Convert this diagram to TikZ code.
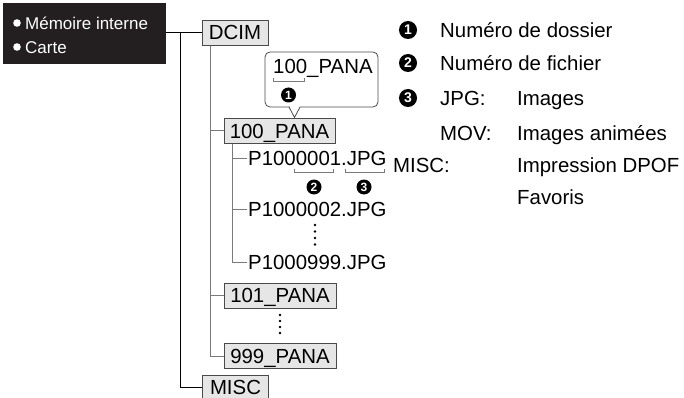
\documentclass[tikz,border=0pt]{standalone}
\usepackage{fontspec}
\setmainfont{Liberation Sans}
\definecolor{boxfill}{HTML}{E6E6E6}
\definecolor{boxborder}{HTML}{4A4A4A}
\definecolor{treegray}{HTML}{7A7A7A}
\definecolor{mediabg}{HTML}{231F20}
\tikzset{
  big/.style={font=\fontsize{20.4}{24}\selectfont},
  folder/.style={big, draw=boxborder, fill=boxfill, line width=0.8pt, inner sep=0pt,
     text height=14.6pt, text depth=0pt, minimum height=25pt},
  fname/.style={big, anchor=west, inner sep=0pt, text height=14.6pt, text depth=0pt},
  legend/.style={big, anchor=west, inner sep=0pt, text height=14.6pt, text depth=0pt},
  tree/.style={draw=treegray, line width=1pt},
  num/.style={circle, fill=black, text=white, inner sep=0pt, minimum size=15pt,
     font=\bfseries\fontsize{12}{12}\selectfont},
  bignum/.style={num, minimum size=18pt, font=\bfseries\fontsize{14}{14}\selectfont},
  brk/.style={draw=treegray, line width=0.8pt},
  medtext/.style={anchor=west, inner sep=0pt, text=white, font=\fontsize{17}{20}\selectfont,
     text height=12.2pt, text depth=0pt},
}
\begin{document}
\begin{tikzpicture}[x=1pt,y=-1pt]
\useasboundingbox (0,0) rectangle (684,398);
% media box
\node (media) [fill=mediabg, minimum width=163pt, minimum height=61pt, inner sep=0pt] at (84.5,33.5) {};
\fill[white] (17,23) circle (3.8);
\fill[white] (17,47) circle (3.8);
\node (mem) [medtext] at (25,23) {Mémoire interne};
\node (carte) [medtext] at (25,47) {Carte};
% folders
\node (dcim) [folder, minimum width=66pt] at (235,32.5) {DCIM};
\node (p100) [folder, minimum width=111pt] at (279.5,131) {100\_PANA};
\node (p101) [folder, minimum width=112pt] at (280,295.5) {101\_PANA};
\node (p999) [folder, minimum width=112pt] at (280,356) {999\_PANA};
\node (misc) [folder, minimum width=66pt] at (235.5,387.5) {MISC};
% files
\node (f1) [fname] at (248,158) {P1000001.JPG};
\node (f2) [fname] at (248,209) {P1000002.JPG};
\node (f3) [fname] at (248,262) {P1000999.JPG};
% connectors
\coordinate (bx) at (180,33);
\coordinate (gx) at (210,0);
\coordinate (sx) at (232,0);
\draw[line width=1pt] (media.east |- dcim.west) -- (dcim.west);
\draw[line width=1pt] (bx |- dcim.west) -- (bx |- misc.west) -- (misc.west);
\draw[tree] (gx |- dcim.south) -- (gx |- p999.west) -- (p999.west);
\draw[tree] (gx |- p100.west) -- (p100.west);
\draw[tree] (gx |- p101.west) -- (p101.west);
\draw[tree] (sx |- p100.south) -- (sx |- f3.west) -- ([xshift=-1pt]f3.west);
\draw[tree] (sx |- f1.west) -- ([xshift=-1pt]f1.west);
\draw[tree] (sx |- f2.west) -- ([xshift=-1pt]f2.west);
% redraw folder borders on top
\node [folder, minimum width=66pt] at (dcim) {DCIM};
\node [folder, minimum width=111pt] at (p100) {100\_PANA};
\node [folder, minimum width=112pt] at (p101) {101\_PANA};
\node [folder, minimum width=112pt] at (p999) {999\_PANA};
\node [folder, minimum width=66pt] at (misc) {MISC};
% vertical ellipses
\foreach \y in {225,231.5,238,244.5} \fill (315,\y) circle (1.4);
\foreach \y in {315,321,327,333} \fill (280,\y) circle (1.4);
% brackets under file name
\draw[brk] (294,169) -- (294,172) -- (333,172) -- (333,169);
\draw[brk] (345,169) -- (345,172) -- (384,172) -- (384,169);
\node (n2) [num] at (314,187) {2};
\node (n3) [num] at (364,187) {3};
% callout
\node (callout) [draw=boxborder, line width=0.8pt, rounded corners=5pt, minimum width=113pt,
   minimum height=55pt, inner sep=0pt] at (321.5,79.5) {};
\fill[white] (289.5,105) rectangle (299.5,109);
\coordinate (tip) at (294.5,117.5);
\draw[boxborder, line width=0.8pt] (289,107) -- (tip) -- (300,107);
\node (ctext) [fname] at (273,66) {100\_PANA};
\draw[brk] (273,78) -- (273,81) -- (304,81) -- (304,78);
\node (n1c) [num] at (288.5,95) {1};
% legend
\node (l1) [bignum] at (408,30) {1};
\node (l2) [bignum] at (408,63) {2};
\node (l3) [bignum] at (408,98) {3};
\node (t1) [legend] at (440,30) {Numéro de dossier};
\node (t2) [legend] at (440,63) {Numéro de fichier};
\node (t3) [legend] at (440,98) {JPG:};
\node (t3b) [legend] at (517,98) {Images};
\node (t4) [legend] at (440,133) {MOV:};
\node (t4b) [legend] at (517,133) {Images animées};
\node (t5) [legend] at (393,165) {MISC:};
\node (t5b) [legend] at (517,165) {Impression DPOF};
\node (t6b) [legend] at (517,197) {Favoris};
\end{tikzpicture}
\end{document}
